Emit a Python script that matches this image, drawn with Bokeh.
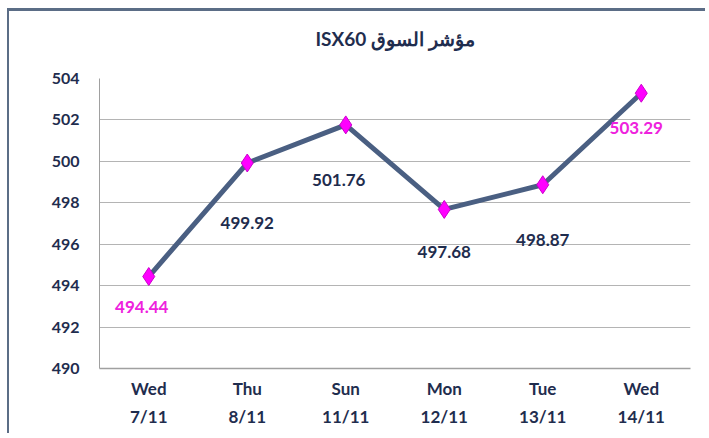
from bokeh.plotting import figure
from bokeh.models import LinearAxis, Range1d, FixedTicker, ColumnDataSource
from bokeh.embed import file_html
from bokeh.resources import INLINE
from bokeh.core.properties import value

title = "ISX60 مؤشر السوق"
days = ["Wed", "Thu", "Sun", "Mon", "Tue", "Wed"]
dates = ["7/11", "8/11", "11/11", "12/11", "13/11", "14/11"]
values = [494.44, 499.92, 501.76, 497.68, 498.87, 503.29]
y_ticks = [490, 492, 494, 496, 498, 500, 502, 504]

xs = list(range(len(days)))
label_colors = ["#ee22dd", "#1f2d4e", "#1f2d4e", "#1f2d4e", "#1f2d4e", "#ee22dd"]
label_dy = [30, 60, 55, 43, 55, 35]
label_dx = [-7, 0, -7, 0, 0, -5]

FONT = "Lato"
NAVY = "#1f2d4e"

p = figure(width=698, height=425, x_range=Range1d(-0.5, len(days) - 0.5),
           y_range=Range1d(490, 504),
           output_backend="svg", toolbar_location=None,
           min_border_left=90, min_border_right=17, min_border_top=67, min_border_bottom=68,
           background_fill_color="white", border_fill_color="white")
p.styles = {"border-top": "3px solid #5b6d86", "border-left": "2px solid #5b6d86",
            "margin-top": "8px", "margin-left": "7px"}
p.outline_line_color = None

p.title.text = title + "\n"
p.title.align = "center"
p.title.text_font = "Lato"
p.title.text_font_size = "19px"
p.title.text_font_style = "bold"
p.title.text_color = NAVY
p.title.standoff = 12

src = ColumnDataSource(dict(x=xs, y=values, lbl=[f"{v:.2f}" for v in values],
                            c=label_colors, dy=label_dy, dx=label_dx))
p.line("x", "y", source=src, line_color="#4a5f82", line_width=5)
p.scatter("x", "y", source=src, marker="diamond", size=18, fill_color="#ff00ff",
          line_color="#cc00cc", line_width=1)
p.text("x", "y", text="lbl", source=src, text_color="c", y_offset="dy", x_offset="dx",
       text_align="center", text_baseline="middle", text_font=value(FONT),
       text_font_size="17px", text_font_style="bold")

p.yaxis.ticker = FixedTicker(ticks=y_ticks)
p.yaxis.axis_line_color = "#a0a0a0"
p.yaxis.major_tick_line_color = None
p.yaxis.minor_tick_line_color = None
p.yaxis.major_label_text_font = FONT
p.yaxis.major_label_text_font_size = "16px"
p.yaxis.major_label_text_font_style = "bold"
p.yaxis.major_label_text_color = NAVY
p.yaxis.major_label_standoff = 14

p.ygrid.grid_line_color = "#b4b4b4"
p.ygrid.grid_line_width = 1
p.xgrid.grid_line_color = None

ax = p.xaxis[0]
ax.ticker = FixedTicker(ticks=xs)
ax.major_label_overrides = {i: d for i, d in zip(xs, days)}
ax.axis_line_color = "#a0a0a0"
ax.axis_line_width = 1.5
ax.major_tick_line_color = None
ax.minor_tick_line_color = None
ax.major_label_text_font = FONT
ax.major_label_text_font_size = "17px"
ax.major_label_text_font_style = "bold"
ax.major_label_text_color = NAVY
ax.major_label_standoff = 3

ax2 = LinearAxis(ticker=FixedTicker(ticks=xs))
ax2.major_label_overrides = {i: t for i, t in zip(xs, dates)}
ax2.axis_line_color = None
ax2.major_tick_line_color = None
ax2.minor_tick_line_color = None
ax2.major_label_text_font = FONT
ax2.major_label_text_font_size = "17px"
ax2.major_label_text_font_style = "bold"
ax2.major_label_text_color = NAVY
ax2.major_label_standoff = -2
p.add_layout(ax2, "below")

open("out.html", "w").write(file_html(p, INLINE))
